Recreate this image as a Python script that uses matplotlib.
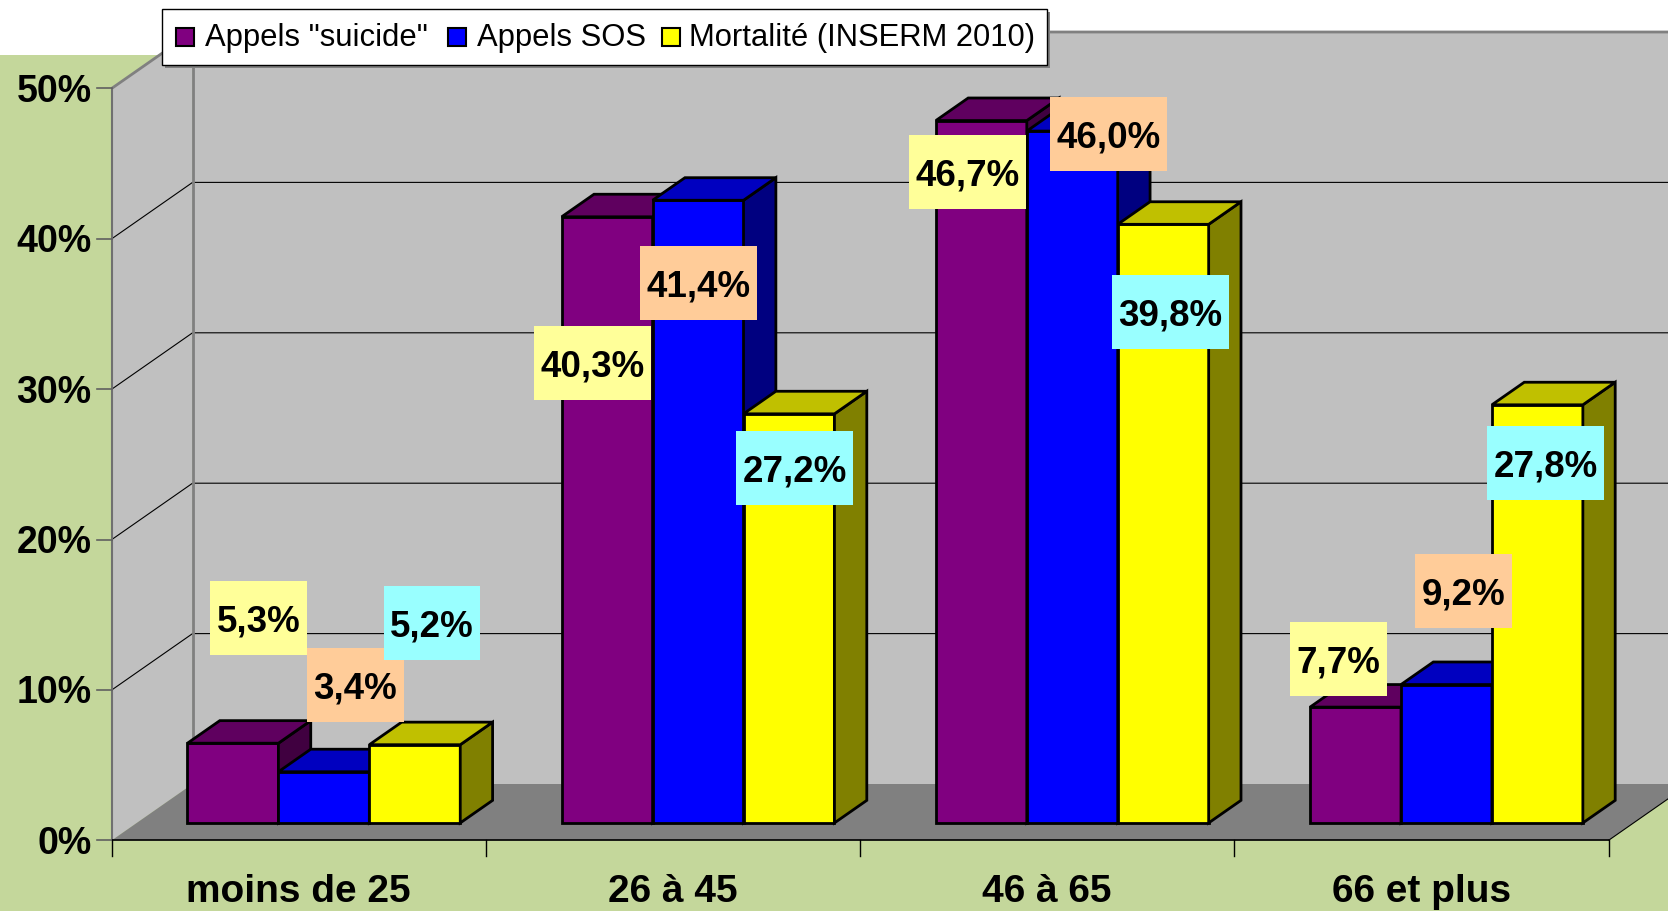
import matplotlib
matplotlib.use("Agg")
import matplotlib.pyplot as plt
from matplotlib.patches import Polygon, Rectangle

plt.rcParams['font.family'] = ['Liberation Sans', 'DejaVu Sans']

# data
categories = ["moins de 25", "26 à 45", "46 à 65", "66 et plus"]
series_names = ['Appels "suicide"', 'Appels SOS', 'Mortalité (INSERM 2010)']
appels_suicide = [5.3, 40.3, 46.7, 7.7]
appels_sos = [3.4, 41.4, 46.0, 9.2]
mortalite = [5.2, 27.2, 39.8, 27.8]
y_ticks = [0, 10, 20, 30, 40, 50]

# where each value box sits, relative to the top front edge of its bar (category units, %)
label_shift = [
    [(0.068, 8.3), (-0.039, -9.7), (-0.036, -3.4), (-0.046, 3.2)],
    [(0.084, 5.8), (0.002, -5.5), (0.097, -0.2), (0.046, 6.2)],
    [(0.046, 8.1), (0.015, -3.6), (0.019, -5.8), (0.022, -3.9)],
]

front_col = ['#800080', '#0000FF', '#FFFF00']
top_col = ['#5F005F', '#0000C0', '#C0C000']
side_col = ['#400040', '#000080', '#808000']
box_col = ['#FFFF99', '#FFCC99', '#99FFFF']
green = '#C4D79B'

W, H = 1668, 911
# front plane layout in pixels
X0, CAT_PX = 111.7, 374.2
Y0, PCT_PX = 840.4, 15.04
DX, DY = 80.85 / CAT_PX, 56.4 / PCT_PX   # depth offset in data units
BAR_W = 0.243
D_FRONT, D_BACK = 0.31, 0.71

fig = plt.figure(figsize=(W / 100, H / 100), dpi=100)
ax = fig.add_axes([0, 0, 1, 1])
ax.set_xlim(-X0 / CAT_PX, (W - X0) / CAT_PX)
ax.set_ylim((Y0 - H) / PCT_PX, Y0 / PCT_PX)
ax.axis('off')


def P(x, y, d):
    return (x + d * DX, y + d * DY)


def face(pts, fc, ec='none', lw=0, z=1):
    ax.add_patch(Polygon(pts, closed=True, fc=fc, ec=ec, lw=lw, zorder=z,
                         joinstyle='miter'))


def line(pts, **kw):
    xs, ys = zip(*pts)
    ax.plot(xs, ys, solid_capstyle='butt', **kw)


ncat = len(categories)
ymax = y_ticks[-1]

# background, walls and floor
ax.add_patch(Rectangle((0, 0), 1, 1 - 55 / H, transform=ax.transAxes,
                       fc=green, ec='none', zorder=0))
face([P(0, 0, 0), P(0, ymax, 0), P(0, ymax, 1), P(0, 0, 1)], '#C0C0C0')
face([P(0, 0, 1), P(0, ymax, 1), P(ncat, ymax, 1), P(ncat, 0, 1)], '#C0C0C0')
face([P(0, 0, 0), P(ncat, 0, 0), P(ncat, 0, 1), P(0, 0, 1)], '#808080')

for v in y_ticks[1:-1]:
    line([P(0, v, 0), P(0, v, 1), P(ncat, v, 1)], color='black', lw=0.8, zorder=2)
line([P(0, ymax, 0), P(0, ymax, 1), P(ncat, ymax, 1)], color='#808080', lw=2, zorder=2)
line([P(0, 0, 1), P(0, ymax, 1)], color='#808080', lw=2, zorder=2)
line([P(0, 0, 0), P(0, ymax, 0)], color='#707070', lw=1.5, zorder=2)

# y ticks and labels
for v in y_ticks:
    ax.plot([-15 / CAT_PX, 0], [v, v], color='#606060', lw=1.2, zorder=2)
    ax.text(-20 / CAT_PX, v - 13.4 / PCT_PX, f"{v}%", ha='right', va='baseline',
            fontsize=27, fontweight='bold', zorder=3)

# x axis
line([(0, 0), (ncat, 0)], color='black', lw=1.2, zorder=2)
line([P(ncat, 0, 0), P(ncat, 0, 1)], color='black', lw=0.8, zorder=2)
for i in range(ncat + 1):
    ax.plot([i, i], [0, -16 / PCT_PX], color='black', lw=1, zorder=2)
for i, c in enumerate(categories):
    ax.text(i + 0.5, (Y0 - 902) / PCT_PX, c, ha='center', va='baseline',
            fontsize=28, fontweight='bold', zorder=3)

# bars
series = [appels_suicide, appels_sos, mortalite]
z = 10
for i in range(ncat):
    for s, vals in enumerate(series):
        h = vals[i]
        x0 = i + 0.5 - 1.5 * BAR_W + s * BAR_W
        x1 = x0 + BAR_W
        ekw = dict(ec='black', lw=2.0)
        face([P(x0, 0, D_FRONT), P(x1, 0, D_FRONT), P(x1, h, D_FRONT), P(x0, h, D_FRONT)],
             front_col[s], z=z, **ekw)
        face([P(x1, 0, D_FRONT), P(x1, 0, D_BACK), P(x1, h, D_BACK), P(x1, h, D_FRONT)],
             side_col[s], z=z, **ekw)
        face([P(x0, h, D_FRONT), P(x1, h, D_FRONT), P(x1, h, D_BACK), P(x0, h, D_BACK)],
             top_col[s], z=z, **ekw)
        z += 1

# value labels with coloured boxes
renderer = fig.canvas.get_renderer()
for s, vals in enumerate(series):
    for i, h in enumerate(vals):
        cx = i + 0.5 + (s - 1) * BAR_W
        ax_, ay_ = P(cx, h, D_FRONT)
        ox, oy = label_shift[s][i]
        lx, ly = ax_ + ox, ay_ + oy
        txt = f"{h:.1f}".replace('.', ',') + "%"
        t = ax.text(lx, ly - 13.5 / PCT_PX, txt, ha='center', va='baseline',
                    fontsize=26.5, fontweight='bold', zorder=101)
        wpx = t.get_window_extent(renderer).width + 13
        bw, bh = wpx / CAT_PX, 74 / PCT_PX
        ax.add_patch(Rectangle((lx - bw / 2, ly - bh / 2), bw, bh,
                               fc=box_col[s], ec='none', zorder=100))

# legend drawn in pixel coordinates
lg = fig.add_axes([0, 0, 1, 1])
lg.set_xlim(0, W)
lg.set_ylim(H, 0)
lg.axis('off')
lg.set_zorder(5)
lg.add_patch(Rectangle((165, 12), 885, 56, fc='#808080', ec='none'))
lg.add_patch(Rectangle((162, 9), 885, 56, fc='white', ec='black', lw=1))
mark_x = [176, 448, 662]
text_x = [205, 477, 689]
for s, name in enumerate(series_names):
    lg.add_patch(Rectangle((mark_x[s], 28), 18, 18, fc=front_col[s], ec='black', lw=1.5))
    lg.text(text_x[s], 46, name, ha='left', va='baseline', fontsize=22.3)

fig.savefig("out.png", dpi=100)
